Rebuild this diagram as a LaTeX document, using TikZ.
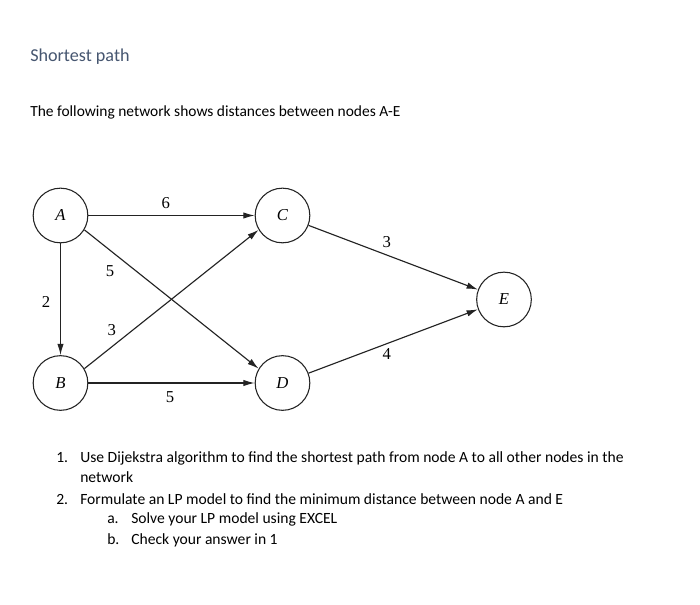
\documentclass[tikz,border=0pt]{standalone}
\usepackage{fontspec}
\setmainfont{Carlito}
\newfontfamily\tms{Liberation Serif}
\usetikzlibrary{arrows.meta}
\definecolor{titlecol}{RGB}{70,86,112}
\definecolor{edgecol}{RGB}{35,35,35}
\tikzset{
  vtx/.style={circle,draw=edgecol,line width=0.8pt,minimum size=41pt,inner sep=0pt,font=\tms\itshape\fontsize{12.5pt}{14pt}\selectfont},
  edge/.style={draw=edgecol,line width=0.85pt,-{Latex[length=8.5pt,width=4.8pt]}},
  wlab/.style={inner sep=0pt,font=\tms\fontsize{12.5pt}{14pt}\selectfont},
  txt/.style={anchor=base west,inner sep=0pt,font=\fontsize{11.7pt}{14pt}\selectfont}
}
\begin{document}
\begin{tikzpicture}[x=0.75pt,y=-0.75pt]
\useasboundingbox[fill=white] (0,0) rectangle (700,605);
% texts
\node[txt,text=titlecol,font=\fontsize{13.6pt}{16pt}\selectfont] (title) at (30,62) {Shortest path};
\node[txt,font=\fontsize{11.6pt}{14pt}\selectfont] (intro) at (30,117) {The following network shows distances between nodes A-E};
% graph
\node[vtx] (A) at (60.5,215.5) {A};
\node[vtx] (B) at (60.5,383) {B};
\node[vtx] (C) at (282.5,215.5) {C};
\node[vtx] (D) at (282.5,383) {D};
\node[vtx] (E) at (504,299.5) {E};
\draw[edge] (A) -- (C);
\draw[edge] (A) -- (B);
\draw[edge] (A.-31) -- (D.149);
\draw[edge] (B.31) -- (C.-149);
\draw[edge] (B) -- (D);
\draw[edge] (C) -- (E);
\draw[edge] (D) -- (E);
\node[wlab] (lAC) at (165.7,202.7) {6};
\node[wlab] (lAD) at (110,270.7) {5};
\node[wlab] (lAB) at (46,301.7) {2};
\node[wlab] (lBC) at (111.7,330) {3};
\node[wlab] (lBD) at (170,396.7) {5};
\node[wlab] (lCE) at (386.7,241.7) {3};
\node[wlab] (lDE) at (386.7,354) {4};
% list
\node[txt] (n1) at (56,463) {1.};
\node[txt] (t1) at (80,463) {Use Dijekstra algorithm to find the shortest path from node A to all other nodes in the};
\node[txt] (t1b) at (80,483) {network};
\node[txt] (n2) at (56,505) {2.};
\node[txt] (t2) at (80,505) {Formulate an LP model to find the minimum distance between node A and E};
\node[txt] (na) at (107,524) {a.};
\node[txt] (ta) at (131,524) {Solve your LP model using EXCEL};
\node[txt] (nb) at (107,545) {b.};
\node[txt] (tb) at (131,545) {Check your answer in 1};
\end{tikzpicture}
\end{document}
